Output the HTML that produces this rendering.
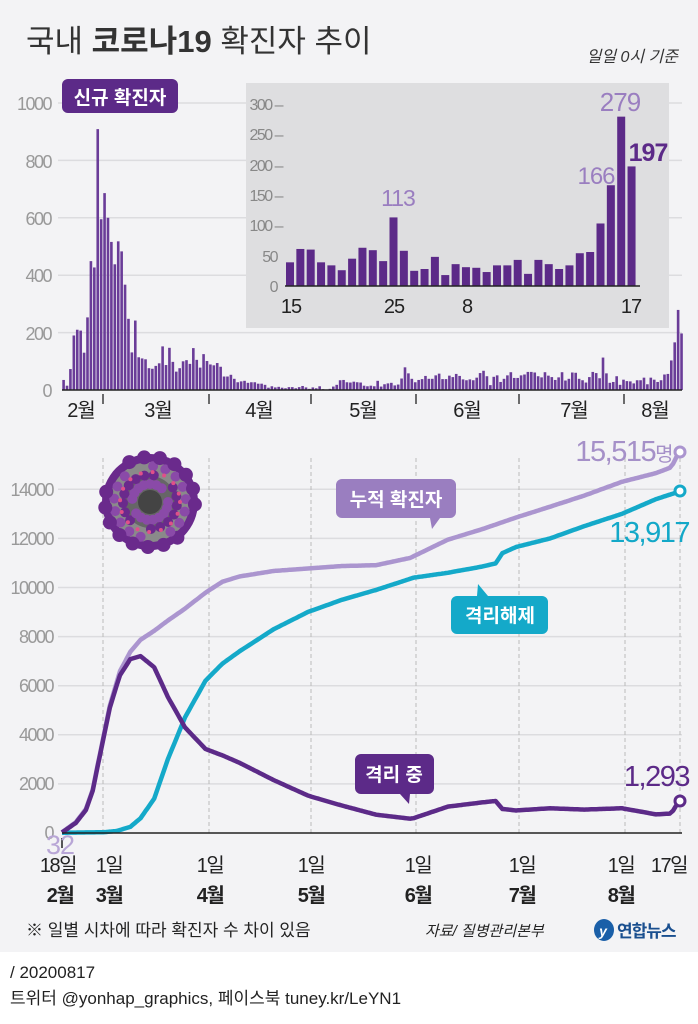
<!DOCTYPE html>
<html><head><meta charset="utf-8">
<style>
html,body{margin:0;padding:0}
body{width:698px;height:1024px;background:#fff;font-family:"Liberation Sans","Noto Sans CJK KR",sans-serif;overflow:hidden}
svg{display:block}
.ax{font-family:"Liberation Sans","Noto Sans CJK KR",sans-serif}
</style></head><body>
<svg id="s" width="698" height="1024" viewBox="0 0 698 1024" xmlns="http://www.w3.org/2000/svg">
<rect x="0" y="0" width="698" height="952" fill="#f3f3f5"/>
<rect x="0" y="952" width="698" height="72" fill="#ffffff"/>
<g id="grid"></g>
<text x="26" y="52" font-size="31" fill="#333" class="ax">국내 <tspan font-weight="bold">코로나19</tspan> 확진자 추이</text>
<text x="678" y="62" font-size="16" fill="#333" text-anchor="end" font-style="italic" class="ax">일일 0시 기준</text>
<g font-size="18" fill="#999" text-anchor="end" class="ax" letter-spacing="-1.5">
<text x="51" y="110">1000</text><text x="51" y="168">800</text><text x="51" y="225">600</text>
<text x="51" y="282">400</text><text x="51" y="340">200</text><text x="51" y="397">0</text>
</g>
<g id="bars"></g>
<line x1="62" y1="390" x2="682" y2="390" stroke="#222" stroke-width="1.5"/>
<g stroke="#222" stroke-width="1.3">
<line x1="103" y1="394" x2="103" y2="404"/><line x1="209" y1="394" x2="209" y2="404"/>
<line x1="311" y1="394" x2="311" y2="404"/><line x1="416" y1="394" x2="416" y2="404"/>
<line x1="519" y1="394" x2="519" y2="404"/><line x1="624" y1="394" x2="624" y2="404"/>
</g>
<g font-size="20" fill="#222" text-anchor="middle" class="ax" letter-spacing="-1">
<text x="81" y="417">2월</text><text x="158" y="417">3월</text><text x="259" y="417">4월</text>
<text x="363" y="417">5월</text><text x="467" y="417">6월</text><text x="574" y="417">7월</text><text x="655" y="417">8월</text>
</g>
<rect x="62" y="79" width="116" height="34" rx="6" fill="#5c2a88"/>
<text x="120" y="104" font-size="19" font-weight="bold" fill="#fff" text-anchor="middle" class="ax">신규 확진자</text>
<rect x="246" y="83" width="423" height="245" fill="#dedee0"/>
<g id="inset"></g>
<g font-size="16" fill="#888" text-anchor="end" class="ax" letter-spacing="-1.5">
<text x="282" y="110">300 –</text><text x="282" y="140">250 –</text><text x="282" y="171">200 –</text>
<text x="282" y="201">150 –</text><text x="282" y="231">100 –</text><text x="277" y="262">50</text><text x="277" y="292">0</text>
</g>
<line x1="285" y1="286" x2="640" y2="286" stroke="#222" stroke-width="1.5"/>
<g font-size="20" fill="#222" text-anchor="middle" class="ax" letter-spacing="-1">
<text x="291" y="313">15</text><text x="394" y="313">25</text><text x="467" y="313">8</text><text x="631" y="313">17</text>
</g>
<text x="398" y="206" font-size="23" fill="#9a7ec0" text-anchor="middle" class="ax" letter-spacing="-1">113</text>
<text x="596" y="184" font-size="24" fill="#9a7ec0" text-anchor="middle" class="ax" letter-spacing="-1">166</text>
<text x="620" y="111" font-size="26" fill="#9a7ec0" text-anchor="middle" class="ax" letter-spacing="-1">279</text>
<text x="648" y="161" font-size="25" font-weight="bold" fill="#5c2a88" text-anchor="middle" class="ax" letter-spacing="-1">197</text>

<g font-size="18" fill="#999" text-anchor="end" class="ax" letter-spacing="-1.5">
<text x="53" y="496">14000</text><text x="53" y="545">12000</text><text x="53" y="594">10000</text>
<text x="53" y="643">8000</text><text x="53" y="692">6000</text><text x="53" y="741">4000</text>
<text x="53" y="790">2000</text><text x="53" y="839">0</text>
</g>
<g id="lines"></g>
<line x1="62" y1="833" x2="682" y2="833" stroke="#222" stroke-width="1.5"/>
<line x1="62" y1="838" x2="62" y2="848" stroke="#222" stroke-width="1.5"/>
<g transform="translate(150,502)">
<circle r="48" fill="#6a2a8c"/>
<circle r="40" fill="#8a8a8a"/>
<circle r="26" fill="#666"/>
<circle r="12" fill="#444"/>
<g id="spikes"></g>
</g>
<text x="672" y="461" font-size="29" fill="#a590c8" text-anchor="end" class="ax" letter-spacing="-1.5">15,515<tspan font-size="20">명</tspan></text>
<text x="689" y="542" font-size="29" fill="#13a8c8" text-anchor="end" class="ax" letter-spacing="-1.5">13,917</text>
<text x="689" y="786" font-size="29" fill="#5c2a88" text-anchor="end" class="ax" letter-spacing="-1.5">1,293</text>
<text x="46" y="854" font-size="27" fill="#b8a6d6" class="ax" letter-spacing="-1">32</text>
<circle cx="680" cy="452" r="5" fill="#fff" stroke="#ab95cf" stroke-width="3"/>
<circle cx="680" cy="491" r="5" fill="#fff" stroke="#14a9c9" stroke-width="3"/>
<circle cx="680" cy="801" r="5" fill="#fff" stroke="#5c2a88" stroke-width="3"/>

<path d="M342,479 h108 a6,6 0 0 1 6,6 v27 a6,6 0 0 1 -6,6 h-10 l-8,11 l-2,-11 h-88 a6,6 0 0 1 -6,-6 v-27 a6,6 0 0 1 6,-6z" fill="#9a7ec0"/>
<text x="396" y="506" font-size="19" font-weight="bold" fill="#fff" text-anchor="middle" class="ax">누적 확진자</text>
<path d="M457,596 h20 l1,-12 l10,12 h54 a6,6 0 0 1 6,6 v26 a6,6 0 0 1 -6,6 h-85 a6,6 0 0 1 -6,-6 v-26 a6,6 0 0 1 6,-6z" fill="#14a9c9"/>
<text x="500" y="622" font-size="19" font-weight="bold" fill="#fff" text-anchor="middle" class="ax">격리해제</text>
<path d="M361,754 h67 a6,6 0 0 1 6,6 v28 a6,6 0 0 1 -6,6 h-18 l-1,10 l-9,-10 h-39 a6,6 0 0 1 -6,-6 v-28 a6,6 0 0 1 6,-6z" fill="#5c2a88"/>
<text x="394" y="781" font-size="19" font-weight="bold" fill="#fff" text-anchor="middle" class="ax">격리 중</text>

<g font-size="20" fill="#222" text-anchor="middle" class="ax" letter-spacing="-1.5">
<text x="58" y="872">18일</text><text x="109" y="872">1일</text><text x="210" y="872">1일</text>
<text x="311" y="872">1일</text><text x="418" y="872">1일</text><text x="522" y="872">1일</text>
<text x="621" y="872">1일</text><text x="669" y="872">17일</text>
</g>
<g font-size="20" font-weight="bold" fill="#222" text-anchor="middle" class="ax" letter-spacing="-1.5">
<text x="60" y="902">2월</text><text x="109" y="902">3월</text><text x="210" y="902">4월</text>
<text x="311" y="902">5월</text><text x="418" y="902">6월</text><text x="522" y="902">7월</text><text x="621" y="902">8월</text>
</g>
<text x="26" y="936" font-size="17" fill="#222" class="ax">※ 일별 시차에 따라 확진자 수 차이 있음</text>
<text x="425" y="936" font-size="15" fill="#222" font-style="italic" class="ax">자료/ 질병관리본부</text>
<ellipse cx="604" cy="930" rx="10" ry="11" fill="#1a5fa8"/>
<text x="603" y="936" font-size="14" fill="#fff" font-weight="bold" text-anchor="middle" class="ax" font-style="italic">y</text>
<text x="617" y="937" font-size="17" fill="#1a4f8f" font-weight="bold" class="ax" letter-spacing="-1">연합뉴스</text>
<text x="10" y="978" font-size="17" fill="#222" class="ax">/ 20200817</text>
<text x="10" y="1004" font-size="17" fill="#222" class="ax">트위터 @yonhap_graphics, 페이스북 tuney.kr/LeYN1</text>
</svg>
<script>
var NS="http://www.w3.org/2000/svg";
function el(p,t,a){var e=document.createElementNS(NS,t);for(var k in a)e.setAttribute(k,a[k]);document.getElementById(p).appendChild(e);return e;}
[0,200,400,600,800,1000].forEach(function(v){var y=390-v*0.287;if(v)el('grid','line',{x1:58,x2:682,y1:y,y2:y,stroke:'#dcdcdf','stroke-width':1.5});});
[2000,4000,6000,8000,10000,12000,14000].forEach(function(v){var y=833-v*0.02455;el('grid','line',{x1:58,x2:682,y1:y,y2:y,stroke:'#dcdcdf','stroke-width':1.5});});
[103,209,311,416,519,625,680].forEach(function(x){el('grid','line',{x1:x,x2:x,y1:458,y2:833,stroke:'#bbb','stroke-width':1,'stroke-dasharray':'4,3'});});
var d=[35,15,73,190,210,207,130,253,449,427,909,595,
686,600,516,438,518,483,367,248,131,242,114,110,107,76,74,84,93,152,87,147,98,64,76,100,104,91,146,105,78,125,101,
89,86,94,81,47,47,53,39,27,30,32,25,27,27,22,22,18,8,13,9,11,8,6,10,10,6,10,14,9,4,
9,6,13,3,2,4,12,18,34,35,27,26,29,27,26,15,13,15,13,32,12,20,23,25,16,19,40,79,58,39,27,
35,38,49,39,39,51,57,38,38,50,45,56,49,37,34,37,34,43,59,67,48,17,46,51,28,39,51,62,42,42,
51,54,63,63,61,48,44,62,50,45,35,44,62,33,39,61,60,39,34,26,45,63,59,41,113,58,25,28,48,18,36,
31,30,23,34,34,43,20,43,36,28,34,54,56,103,166,279,197];
var sx=3.414;
d.forEach(function(v,i){var h=v*0.287;el('bars','rect',{x:62+i*sx+0.3,y:390-h,width:2.6,height:h,fill:'#6a3c98'});});
var ins=d.slice(148);
ins.forEach(function(v,i){var h=v*0.607;el('inset','rect',{x:286+i*10.35,y:286-h,width:8,height:h,fill:'#5c2a88'});});
function interp(k,t){for(var i=0;i<k.length-1;i++){if(t<=k[i+1][0]){var a=k[i],b=k[i+1];return a[1]+(b[1]-a[1])*(t-a[0])/(b[0]-a[0]);}}return k[k.length-1][1];}
var C=[[0,31],[4,433],[7,977],[9,1766],[11,3150],[14,5186],[17,6593],[20,7382],[23,7869],[27,8236],[31,8652],[36,9137],[42,9786],[47,10237],[52,10450],[62,10674],[72,10774],[82,10874],[92,10909],[102,11206],[113,11947],[123,12373],[133,12850],[143,13293],[153,13745],[164,14305],[174,14660],[178,14873],[179,15039],[180,15318],[181,15515]];
var R=[[0,12],[12,30],[16,80],[20,250],[23,600],[27,1400],[31,3000],[36,4700],[42,6200],[47,6900],[52,7400],[62,8300],[72,9000],[82,9500],[92,9900],[103,10400],[113,10600],[123,10850],[127,10980],[129,11400],[133,11650],[143,12000],[153,12500],[164,13000],[174,13600],[181,13917]];
var D=[[0,0],[20,50],[43,165],[73,250],[104,270],[134,282],[181,305]];
function pts(f){var s=[];for(var t=0;t<=181;t+=0.5){s.push((62+t*sx).toFixed(1)+','+(833-f(t)*0.02455).toFixed(1));}return s.join(' ');}
el('lines','polyline',{points:pts(function(t){return interp(R,t)}),fill:'none',stroke:'#14a9c9','stroke-width':4.5,'stroke-linejoin':'round'});
el('lines','polyline',{points:pts(function(t){return interp(C,t)}),fill:'none',stroke:'#ab95cf','stroke-width':4.5,'stroke-linejoin':'round'});
el('lines','polyline',{points:pts(function(t){return Math.max(0,interp(C,t)-interp(R,t)-interp(D,t))}),fill:'none',stroke:'#5c2a88','stroke-width':4.5,'stroke-linejoin':'round'});
for(var i=0;i<60;i++){var a=i*2.4,r=18+(i%4)*9;el('spikes','circle',{cx:(Math.cos(a)*r).toFixed(1),cy:(Math.sin(a)*r).toFixed(1),r:i%4==3?7:5,fill:i%2?'#6a2a8c':'#8a4aa8'});}
for(var i=0;i<16;i++){var a=i*0.4;el('spikes','circle',{cx:(Math.cos(a)*30).toFixed(1),cy:(Math.sin(a)*30).toFixed(1),r:2,fill:'#e0508a'});}
</script>
</body></html>
